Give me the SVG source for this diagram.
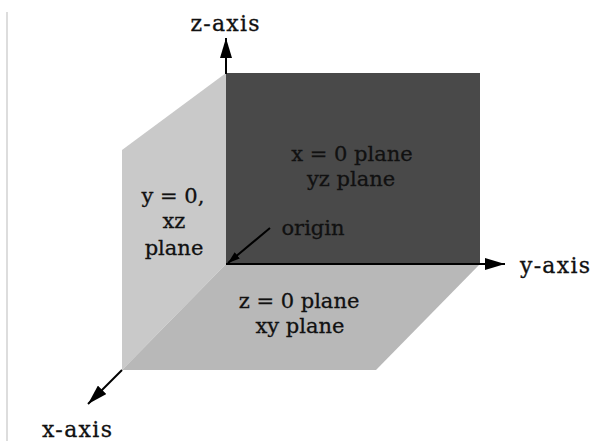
<svg xmlns="http://www.w3.org/2000/svg" width="600" height="441" viewBox="0 0 600 441">
<style>
text{font-family:"DejaVu Serif","Liberation Serif",serif;fill:#111;stroke:#111;stroke-width:0.3;text-anchor:middle}
.lbl{font-size:21px}
.axl{font-size:22px}
.ax{fill:none;stroke:#000;stroke-width:2}
</style>
<defs>
<marker id="ah" viewBox="0 0 20 12" refX="20" refY="6" markerWidth="20" markerHeight="12" markerUnits="userSpaceOnUse" orient="auto">
<path d="M0,0 L20,6 L0,12 Z" fill="#000"/>
</marker>
<marker id="ahs" viewBox="0 0 12 8" refX="12" refY="4" markerWidth="12" markerHeight="8" markerUnits="userSpaceOnUse" orient="auto">
<path d="M0,0 L12,4 L0,8 Z" fill="#000"/>
</marker>
</defs>
<rect width="600" height="441" fill="#fff"/>
<line x1="7" y1="12" x2="7" y2="441" stroke="#d2d2d2" stroke-width="1.5"/>
<g id="xz-plane">
<polygon points="226,73 122,150 122,370 226,264" fill="#c9c9c9"/>
<text class="lbl" x="173" y="203">y = 0,</text>
<text class="lbl" x="174" y="228">xz</text>
<text class="lbl" x="174" y="255">plane</text>
</g>
<g id="xy-plane">
<polygon points="226,264 480,264 376,370 122,370" fill="#b8b8b8"/>
<text class="lbl" x="299" y="308">z = 0 plane</text>
<text class="lbl" x="300" y="333">xy plane</text>
</g>
<g id="yz-plane">
<rect x="226" y="73" width="254" height="191" fill="#494949"/>
<text class="lbl" x="352" y="161">x = 0 plane</text>
<text class="lbl" x="351" y="186">yz plane</text>
</g>
<g id="connectors">
<line class="ax" x1="226" y1="74" x2="226" y2="38" marker-end="url(#ah)"/>
<line class="ax" x1="226" y1="264" x2="505" y2="264" marker-end="url(#ah)"/>
<line class="ax" x1="122" y1="370" x2="88" y2="404" marker-end="url(#ah)"/>
<line class="ax" x1="270" y1="228" x2="228" y2="263" stroke-width="1.5" marker-end="url(#ahs)"/>
</g>
<g id="labels">
<text class="axl" x="225" y="31" textLength="69" lengthAdjust="spacing">z-axis</text>
<text class="axl" x="555" y="273" textLength="70" lengthAdjust="spacing">y-axis</text>
<text class="axl" x="77" y="437" textLength="70" lengthAdjust="spacing">x-axis</text>
<text class="lbl" x="313" y="235">origin</text>
</g>
</svg>
